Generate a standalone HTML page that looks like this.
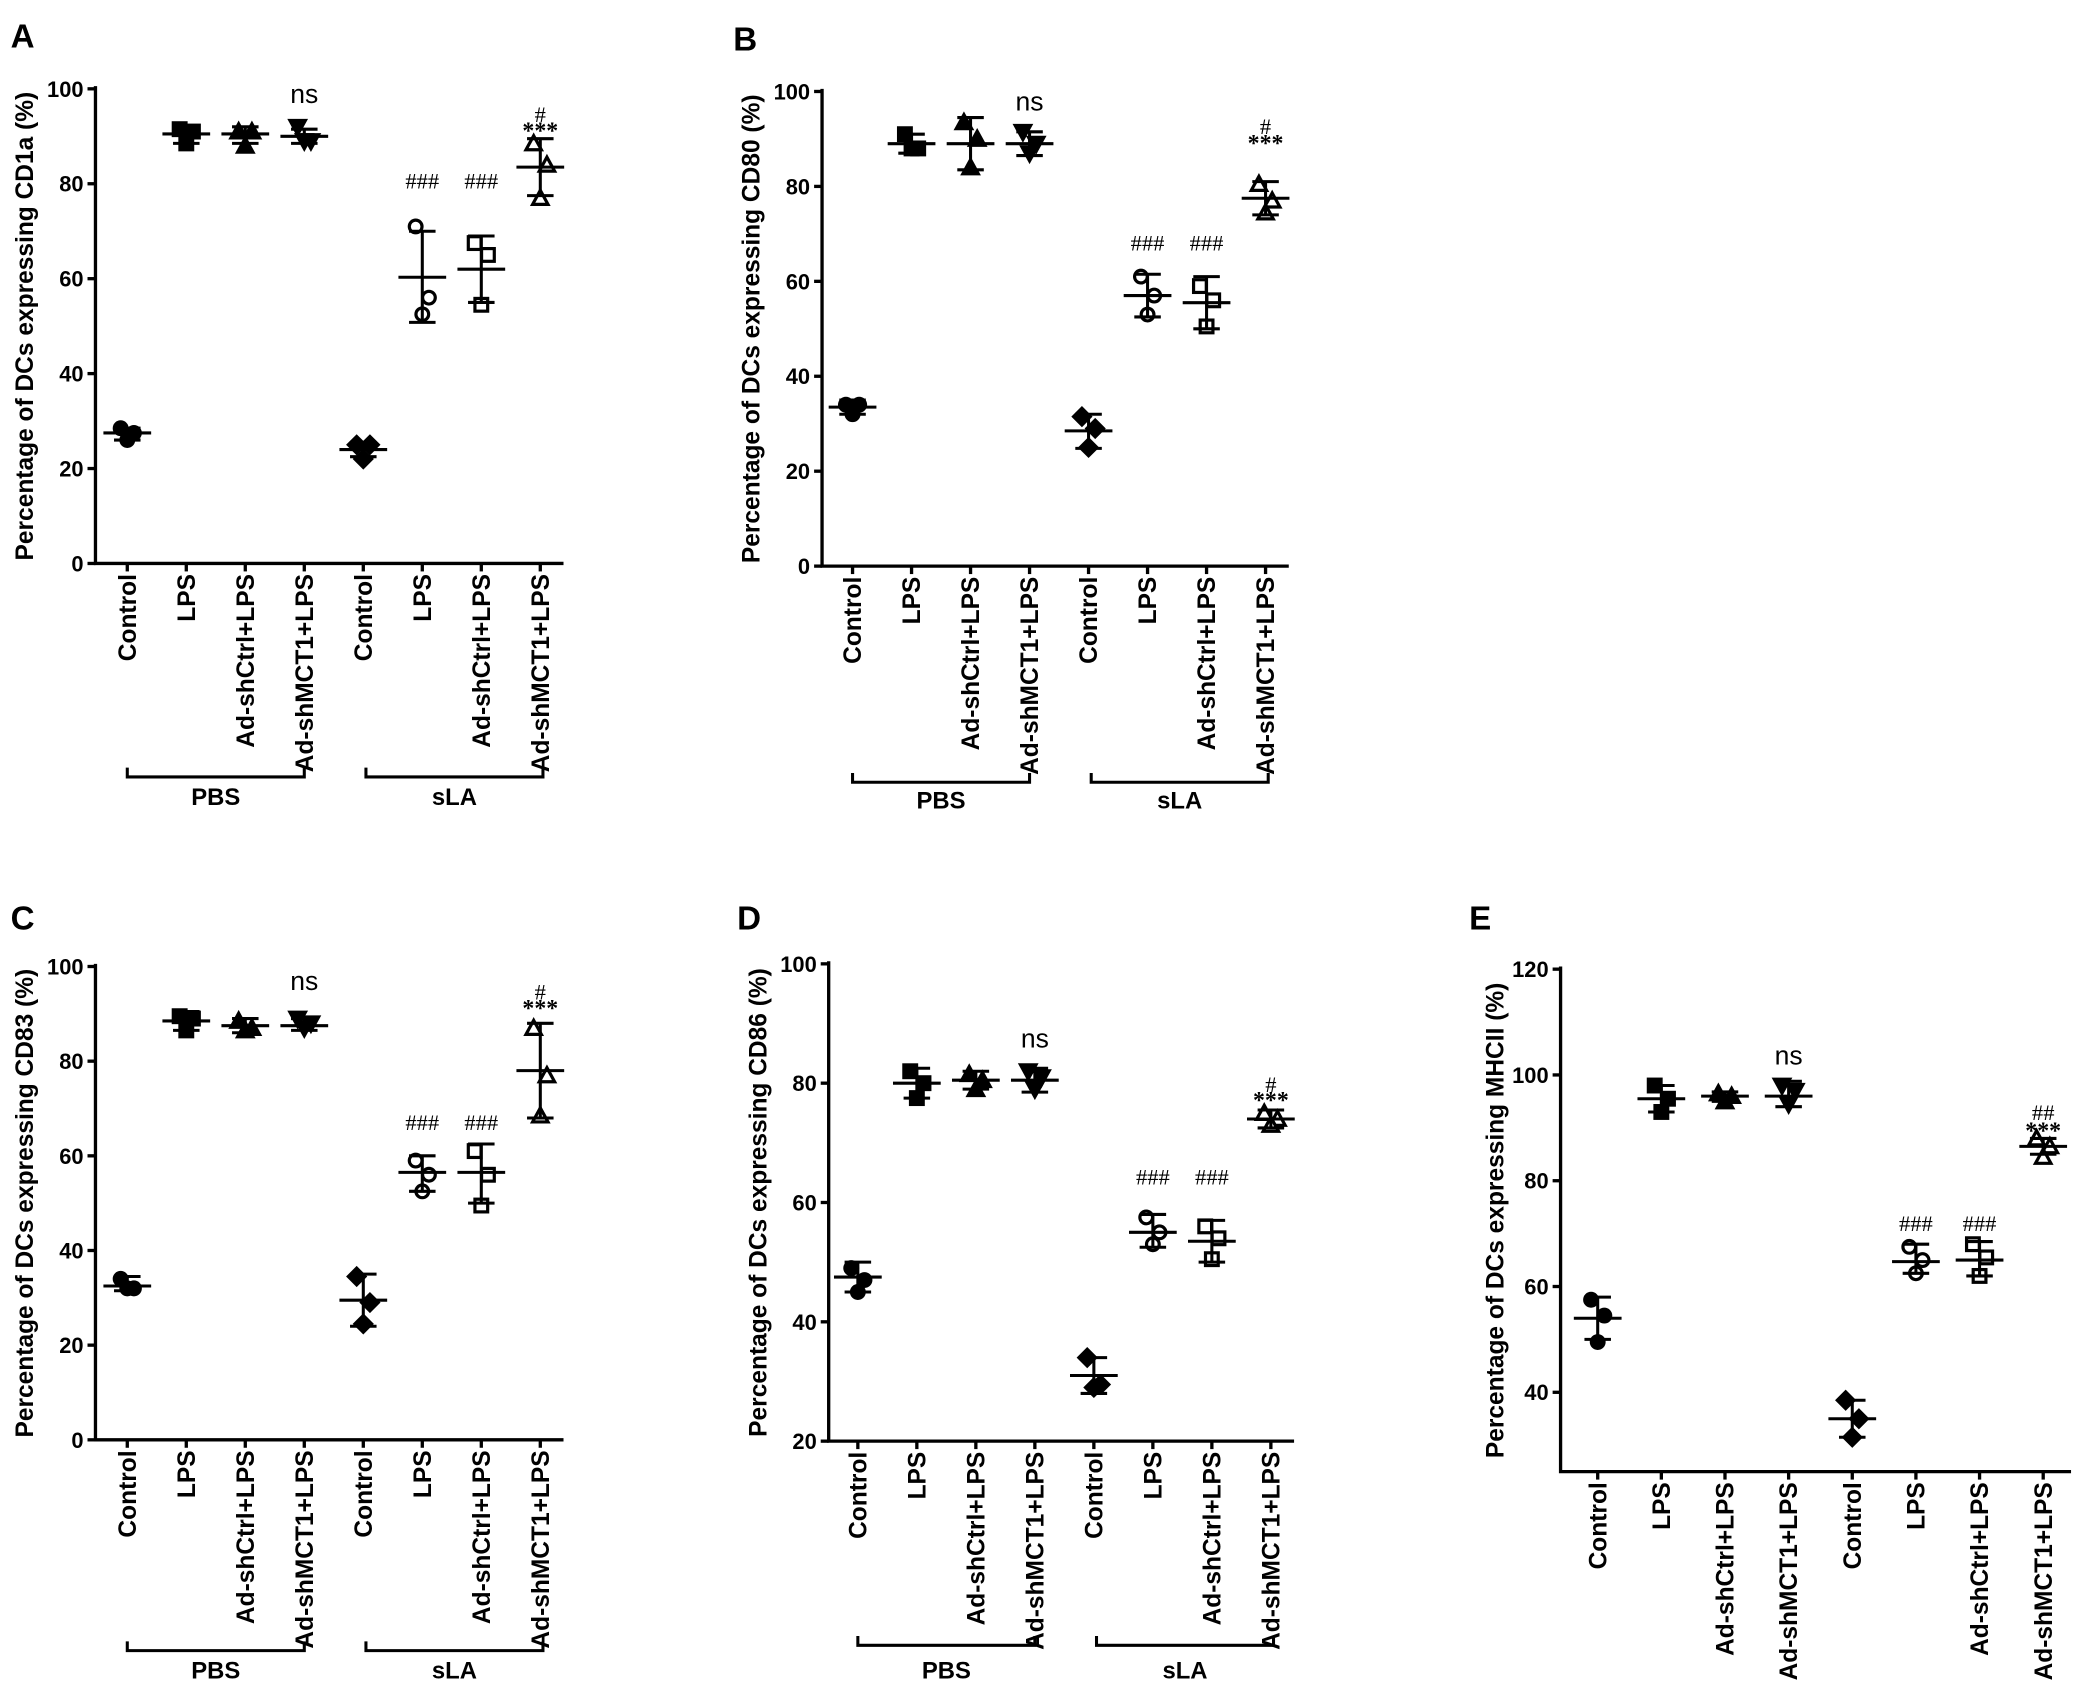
<!DOCTYPE html>
<html><head><meta charset="utf-8"><style>body{margin:0;background:#fff}svg{display:block}</style></head>
<body>
<svg id="s" width="2079" height="1701" viewBox="0 0 1568 1283" preserveAspectRatio="none" xmlns="http://www.w3.org/2000/svg" font-family="Liberation Sans, Arial, sans-serif"></svg>
<script>
const cats=["Control","LPS","Ad-shCtrl+LPS","Ad-shMCT1+LPS","Control","LPS","Ad-shCtrl+LPS","Ad-shMCT1+LPS"];
const mk=['fc','fs','ftu','ftd','fd','oc','os','otu'];
const P=[
{L:'A',lx:8,ly:18,x0:72,yt:67,yb:425,min:0,max:100,step:20,c0:96,dc:44.5,xe:425,br:586,bl:607,yl:'Percentage of DCs expressing CD1a (%)',ylx:19,
 g:[[27.5,26,28.5,[28.5,27.5,26]],[90.5,88.5,92,[91.5,91,88.5]],[90.5,88.5,92,[91,91,88]],[90,88.5,91.5,[92,89,89]],[24,22.5,25.5,[25,25,22]],[60.3,50.8,70,[71,56,52.5]],[62,55,69,[67.5,65,54.5]],[83.5,77.5,89.5,[88.5,84,77]]],
 ann:[[3,'ns',97],[5,'###',79],[6,'###',79],[7,'#',93],[7,'***',89.5]]},
{L:'B',lx:553,ly:20,x0:620,yt:69,yb:427,min:0,max:100,step:20,c0:643,dc:44.5,xe:972,br:590,bl:610,yl:'Percentage of DCs expressing CD80 (%)',ylx:567,
 g:[[33.5,32,35,[34,34,32]],[89,87,91,[91,88,88]],[89,83.5,94.5,[93.5,90,84]],[89,86.5,91.5,[91.5,89,87]],[28.5,24.8,32,[31.5,29,25]],[57,52.5,61.5,[61,57,53]],[55.5,50,61,[59,56,50.5]],[77.5,74,81,[80.5,77,74.5]]],
 ann:[[3,'ns',96],[5,'###',66.5],[6,'###',66.5],[7,'#',91],[7,'***',87.5]]},
{L:'C',lx:8,ly:683,x0:72,yt:729,yb:1086,min:0,max:100,step:20,c0:96,dc:44.5,xe:425,br:1245,bl:1266,yl:'Percentage of DCs expressing CD83 (%)',ylx:19,
 g:[[32.5,31.5,34.5,[34,32,32]],[88.5,86.5,90.5,[89.5,89,86.5]],[87.5,86,89,[88.5,87,86.5]],[87.5,86.5,89,[89,88,87]],[29.5,24,35,[34.5,29,24.5]],[56.5,52.5,60,[59,56,52.5]],[56.5,50,62.5,[61,56,49.5]],[78,68,88,[87,77,68.5]]],
 ann:[[3,'ns',95],[5,'###',65.5],[6,'###',65.5],[7,'#',93],[7,'***',89.5]]},
{L:'D',lx:556,ly:683,x0:625,yt:727,yb:1087,min:20,max:100,step:20,c0:647,dc:44.5,xe:976,br:1241,bl:1266,yl:'Percentage of DCs expressing CD86 (%)',ylx:572,
 g:[[47.5,45,50,[49,47,45]],[80,77.5,82.5,[82,80,77.5]],[80.5,79,82,[81.5,80.5,79]],[80.5,78.5,82.5,[82,81,79]],[31,28,34,[34,29.5,29]],[55,52.5,58,[57.5,55,53]],[53.5,50,57,[56,54,50.5]],[74,72.5,75.5,[75,74,73]]],
 ann:[[3,'ns',86],[5,'###',63],[6,'###',63],[7,'#',78.5],[7,'***',75.8]]},
{L:'E',lx:1108,ly:683,x0:1177,yt:731,yb:1110,min:25,max:120,step:20,t0:40,c0:1205,dc:48,xe:1562,yl:'Percentage of DCs expressing MHCII (%)',ylx:1128,
 g:[[54,50,58,[57.5,54.5,49.5]],[95.5,93,98,[98,95.5,93]],[96,95,96.8,[96.5,96,95]],[96,94,98.8,[98,97,94.5]],[35,31.5,38.5,[38.5,35,31.5]],[64.7,62.5,68,[67.5,65,62.5]],[65,62,68.5,[68,65.5,62]],[86.5,85,88,[88,86.5,84.5]]],
 ann:[[3,'ns',102],[5,'###',70.5],[6,'###',70.5],[7,'##',91.5],[7,'***',88]]}
];
let h='';
function marker(t,x,y){const r=4.8;const f=t[0]=='f'?'#000':'#fff';const s=t.slice(1);const st=`fill="${f}" stroke="#000" stroke-width="2.4"`;
 if(s=='c')return `<circle cx="${x}" cy="${y}" r="${r}" ${st}/>`;
 if(s=='s')return `<rect x="${x-r}" y="${y-r}" width="${2*r}" height="${2*r}" ${st}/>`;
 if(s=='tu')return `<polygon points="${x},${y-r-1} ${x+r+1},${y+r} ${x-r-1},${y+r}" ${st}/>`;
 if(s=='td')return `<polygon points="${x},${y+r+1} ${x+r+1},${y-r} ${x-r-1},${y-r}" ${st}/>`;
 if(s=='d')return `<polygon points="${x},${y-r-1.5} ${x+r+1.5},${y} ${x},${y+r+1.5} ${x-r-1.5},${y}" ${st}/>`;}
for(const p of P){
 const Y=v=>p.yb-(v-p.min)/(p.max-p.min)*(p.yb-p.yt);
 h+=`<text x="${p.lx}" y="${p.ly+18}" font-size="25" font-weight="bold">${p.L}</text>`;
 h+=`<path d="M${p.x0} ${p.yt-2}V${p.yb}H${p.xe}" fill="none" stroke="#000" stroke-width="2.5"/>`;
 for(let v=(p.t0||p.min);v<=p.max;v+=p.step){const y=Y(v);h+=`<line x1="${p.x0-6}" x2="${p.x0}" y1="${y}" y2="${y}" stroke="#000" stroke-width="2.5"/><text x="${p.x0-9}" y="${y+6}" font-size="16.5" font-weight="bold" text-anchor="end">${v}</text>`;}
 h+=`<text transform="translate(${p.ylx+6},${(p.yt+p.yb)/2}) rotate(-90)" font-size="18.5" font-weight="bold" text-anchor="middle">${p.yl}</text>`;
 p.g.forEach((g,i)=>{const x=p.c0+i*p.dc;
  h+=`<line x1="${x}" x2="${x}" y1="${p.yb}" y2="${p.yb+6}" stroke="#000" stroke-width="2.5"/>`;
  h+=`<text transform="translate(${x+6.5},${p.yb+8}) rotate(-90)" font-size="18.5" font-weight="bold" text-anchor="end">${cats[i]}</text>`;
  const offs=[-5,5,0];
  g[3].forEach((v,j)=>{h+=marker(mk[i],x+offs[j],Y(v));});
  h+=`<path d="M${x} ${Y(g[1])}V${Y(g[2])}M${x-10} ${Y(g[1])}h20M${x-10} ${Y(g[2])}h20M${x-18} ${Y(g[0])}h36" stroke="#000" stroke-width="2.3" fill="none"/>`;
 });
 for(const a of p.ann){const x=p.c0+a[0]*p.dc;const ns=a[1]=='ns';
  h+=`<text x="${x}" y="${Y(a[2])}" font-size="${ns?20:a[1]=='***'?18:17}" ${ns?'':'font-family="Liberation Serif, serif"'} ${a[1]=='***'?'font-weight="bold"':''} text-anchor="middle">${a[1]}</text>`;}
 if(p.br){const a=p.c0,b=p.c0+3*p.dc,c=p.c0+4*p.dc+2,d=p.c0+7*p.dc+2;
  h+=`<path d="M${a} ${p.br-7}V${p.br}H${b}V${p.br-7}M${c} ${p.br-7}V${p.br}H${d}V${p.br-7}" fill="none" stroke="#000" stroke-width="2.3"/>`;
  h+=`<text x="${(a+b)/2}" y="${p.bl}" font-size="18" font-weight="bold" text-anchor="middle">PBS</text><text x="${(c+d)/2}" y="${p.bl}" font-size="18" font-weight="bold" text-anchor="middle">sLA</text>`;}
}
document.getElementById('s').innerHTML=h;
</script>
</body></html>
